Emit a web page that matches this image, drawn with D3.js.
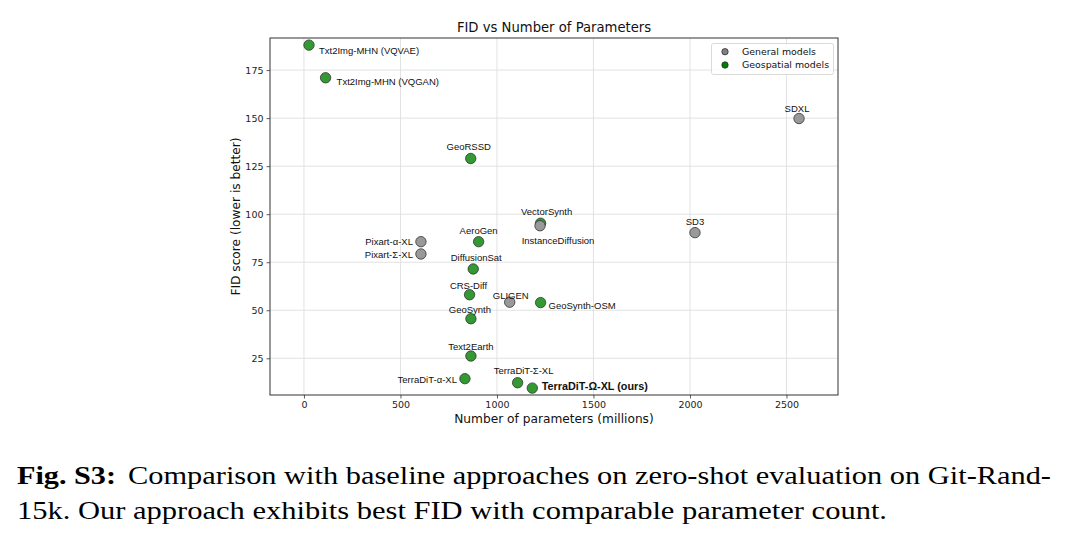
<!DOCTYPE html>
<html>
<head>
<meta charset="utf-8">
<script src="https://cdn.jsdelivr.net/npm/d3@7"></script>
<style>
  html, body { margin: 0; padding: 0; background: #fff; }
  svg { display: block; }
</style>
</head>
<body>
<div id="chart"></div>
<script>
// chart data
var models = [
  "Txt2Img-MHN (VQVAE)", "Txt2Img-MHN (VQGAN)", "GeoRSSD", "VectorSynth",
  "AeroGen", "DiffusionSat", "CRS-Diff", "GeoSynth-OSM", "GeoSynth",
  "Text2Earth", "TerraDiT-α-XL", "TerraDiT-Σ-XL", "TerraDiT-Ω-XL (ours)",
  "SDXL", "InstanceDiffusion", "SD3", "Pixart-α-XL", "Pixart-Σ-XL", "GLIGEN"
];
var params = [26, 112, 864, 1226, 905, 877, 858, 1226, 865, 865, 834, 1107, 1183,
              2565, 1223, 2026, 606, 606, 1066];
var fid = [188, 171, 129, 95.3, 85.7, 71.5, 58.1, 54, 45.6, 26.2, 14.4, 12.3, 9.5,
           149.8, 94, 90.4, 85.7, 79.3, 54.2];
var kind = ["geo", "geo", "geo", "geo", "geo", "geo", "geo", "geo", "geo", "geo", "geo", "geo", "geo",
            "general", "general", "general", "general", "general", "general"];
var xTicks = [0, 500, 1000, 1500, 2000, 2500];
var yTicks = [25, 50, 75, 100, 125, 150, 175];
var legendLabels = ["General models", "Geospatial models"];

// label placement (px offsets from the marker), kept apart from the data
var labelPos = {
  "Txt2Img-MHN (VQVAE)": [10, 5.5, "start"],
  "Txt2Img-MHN (VQGAN)": [11, 4, "start"],
  "GeoRSSD": [-2, -12, "middle"],
  "VectorSynth": [6, -12, "middle"],
  "AeroGen": [0, -11, "middle"],
  "DiffusionSat": [3, -11, "middle"],
  "CRS-Diff": [-1, -9.5, "middle"],
  "GeoSynth-OSM": [8, 3.5, "start"],
  "GeoSynth": [-1, -9, "middle"],
  "Text2Earth": [0, -9.5, "middle"],
  "TerraDiT-α-XL": [-8, 1.5, "end"],
  "TerraDiT-Σ-XL": [6, -12, "middle"],
  "TerraDiT-Ω-XL (ours)": [9.5, -2, "start"],
  "SDXL": [-2, -10, "middle"],
  "InstanceDiffusion": [18, 15, "middle"],
  "SD3": [0, -11, "middle"],
  "Pixart-α-XL": [-8, 0, "end"],
  "Pixart-Σ-XL": [-8, 1, "end"],
  "GLIGEN": [1, -6.5, "middle"]
};

var W = 1068, H = 542;
var plot = {left: 270, right: 838, top: 38, bottom: 395};
var sans = "'DejaVu Sans', sans-serif";
var labelFont = "'Liberation Sans', Arial, sans-serif";
var serif = "'Liberation Serif', 'Times New Roman', serif";

var fill = {general: "#999999", geo: "#339933"};
var legendFill = {general: "#808080", geo: "#008000"};

var svg = d3.select("#chart").append("svg")
  .attr("width", W).attr("height", H);

var x = d3.scaleLinear().domain([-176, 2767]).range([plot.left, plot.right]);
var y = d3.scaleLinear().domain([5.9, 191.7]).range([plot.bottom, plot.top]);

// grid
svg.append("g").selectAll("line").data(xTicks).enter().append("line")
  .attr("x1", function(d) { return x(d); }).attr("x2", function(d) { return x(d); })
  .attr("y1", plot.top).attr("y2", plot.bottom)
  .attr("stroke", "#dfdfdf").attr("stroke-width", 0.9);
svg.append("g").selectAll("line").data(yTicks).enter().append("line")
  .attr("y1", function(d) { return y(d); }).attr("y2", function(d) { return y(d); })
  .attr("x1", plot.left).attr("x2", plot.right)
  .attr("stroke", "#dfdfdf").attr("stroke-width", 0.9);

// axes
var xAxis = svg.append("g")
  .attr("transform", "translate(0," + plot.bottom + ")")
  .call(d3.axisBottom(x).tickValues(xTicks).tickFormat(d3.format("d"))
    .tickSize(3.5).tickPadding(3).tickSizeOuter(0));
var yAxis = svg.append("g")
  .attr("transform", "translate(" + plot.left + ",0)")
  .call(d3.axisLeft(y).tickValues(yTicks).tickFormat(d3.format("d"))
    .tickSize(3.5).tickPadding(3).tickSizeOuter(0));
[xAxis, yAxis].forEach(function(g) {
  g.select(".domain").remove();
  g.selectAll(".tick line").attr("stroke", "#333").attr("stroke-width", 0.8);
  g.selectAll(".tick text").attr("fill", "#222")
    .style("font-family", sans).style("font-size", "9.5px");
});

// frame
svg.append("rect")
  .attr("x", plot.left).attr("y", plot.top)
  .attr("width", plot.right - plot.left).attr("height", plot.bottom - plot.top)
  .attr("fill", "none").attr("stroke", "#333").attr("stroke-width", 1);

// points: geospatial first, general models on top
var idx = d3.range(models.length);
var order = idx.filter(function(i) { return kind[i] === "geo"; })
  .concat(idx.filter(function(i) { return kind[i] === "general"; }));

svg.append("g").selectAll("circle").data(order).enter().append("circle")
  .attr("cx", function(i) { return x(params[i]); })
  .attr("cy", function(i) { return y(fid[i]); })
  .attr("r", 5.2)
  .attr("fill", function(i) { return fill[kind[i]]; })
  .attr("stroke", "#333").attr("stroke-width", 0.8);

// point labels
svg.append("g").selectAll("text").data(idx).enter().append("text")
  .attr("x", function(i) { return x(params[i]) + labelPos[models[i]][0]; })
  .attr("y", function(i) { return y(fid[i]) + labelPos[models[i]][1]; })
  .attr("dy", "0.35em")
  .attr("text-anchor", function(i) { return labelPos[models[i]][2]; })
  .style("font-family", labelFont)
  .style("font-size", function(i) { return i === 12 ? "10.8px" : "9.5px"; })
  .style("font-weight", function(i) { return i === 12 ? "bold" : "normal"; })
  .attr("fill", "#111")
  .text(function(i) { return models[i]; });

// title and axis labels
svg.append("text").attr("x", 554).attr("y", 32).attr("text-anchor", "middle")
  .style("font-family", sans).style("font-size", "13.2px").attr("fill", "#111")
  .text("FID vs Number of Parameters");
svg.append("text").attr("x", 554).attr("y", 423).attr("text-anchor", "middle")
  .style("font-family", sans).style("font-size", "12.2px").attr("fill", "#111")
  .text("Number of parameters (millions)");
svg.append("text")
  .attr("transform", "translate(240," + ((plot.top + plot.bottom) / 2) + ") rotate(-90)")
  .attr("text-anchor", "middle")
  .style("font-family", sans).style("font-size", "12.2px").attr("fill", "#111")
  .text("FID score (lower is better)");

// legend
var lg = svg.append("g");
lg.append("rect").attr("x", 711.5).attr("y", 43.5).attr("width", 122).attr("height", 31)
  .attr("rx", 2).attr("fill", "#fff").attr("fill-opacity", 0.8)
  .attr("stroke", "#d0d0d0").attr("stroke-width", 0.8);
["general", "geo"].forEach(function(k, j) {
  lg.append("circle").attr("cx", 725).attr("cy", 51.7 + j * 13.3).attr("r", 3.2)
    .attr("fill", legendFill[k]).attr("stroke", "#222").attr("stroke-width", 0.7);
  lg.append("text").attr("x", 742).attr("y", 51.7 + j * 13.3).attr("dy", "0.35em")
    .style("font-family", sans).style("font-size", "9.4px").attr("fill", "#111")
    .text(legendLabels[j]);
});

// caption
var cap = svg.append("g").attr("fill", "#000");
cap.append("text").attr("x", 17).attr("y", 484)
  .style("font-family", serif).style("font-size", "25px").style("font-weight", "bold")
  .attr("textLength", 99).attr("lengthAdjust", "spacingAndGlyphs")
  .text("Fig. S3:");
cap.append("text").attr("x", 128).attr("y", 484)
  .style("font-family", serif).style("font-size", "25px")
  .attr("textLength", 923).attr("lengthAdjust", "spacingAndGlyphs")
  .text("Comparison with baseline approaches on zero-shot evaluation on Git-Rand-");
cap.append("text").attr("x", 17).attr("y", 519)
  .style("font-family", serif).style("font-size", "25px")
  .attr("textLength", 870).attr("lengthAdjust", "spacingAndGlyphs")
  .text("15k. Our approach exhibits best FID with comparable parameter count.");
</script>
</body>
</html>
